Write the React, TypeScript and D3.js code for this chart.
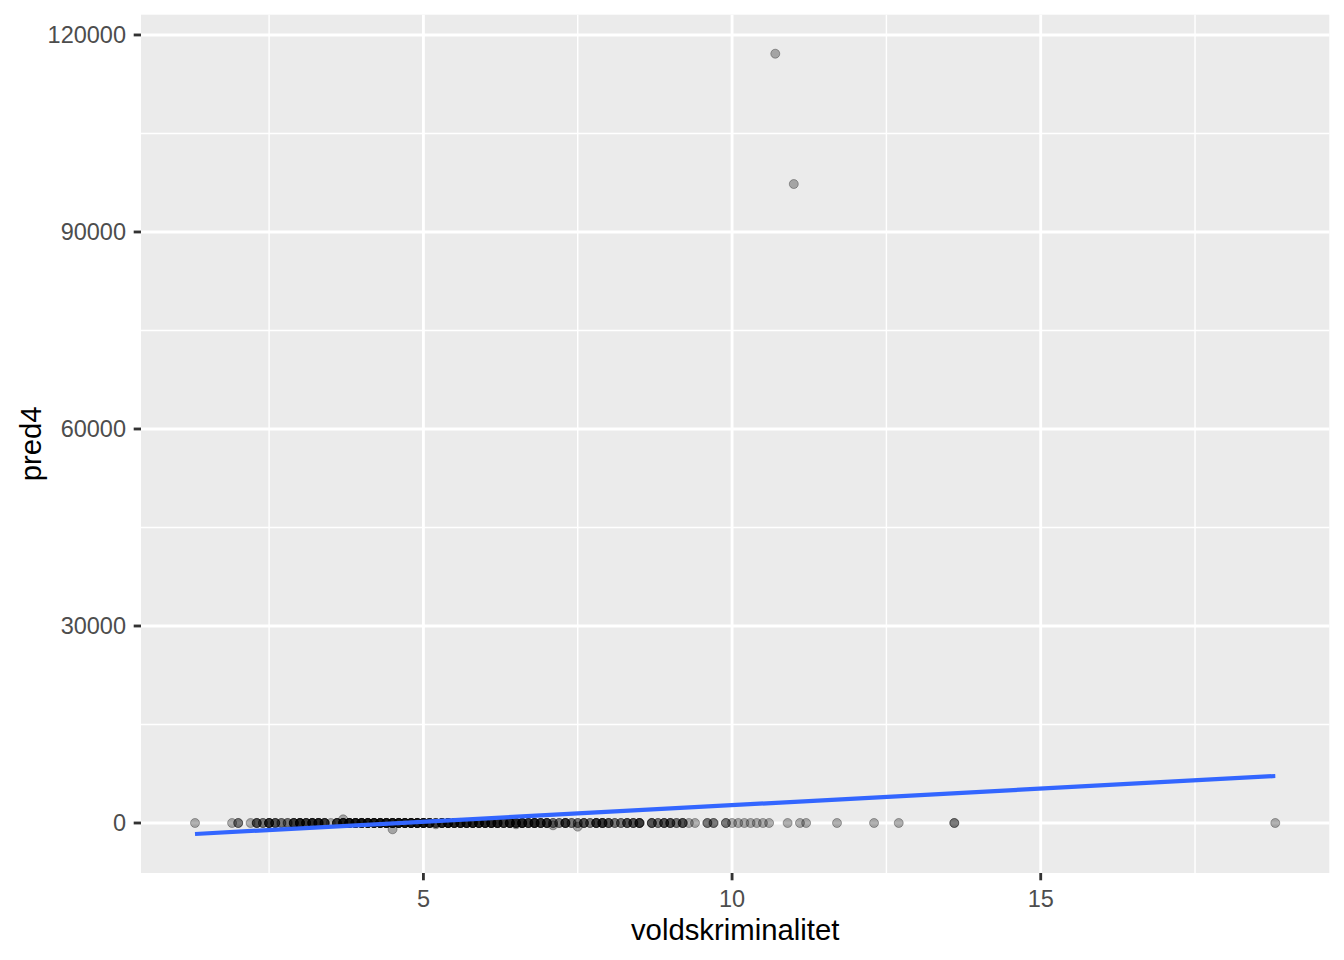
import React from "react";
import * as d3 from "d3";

// Points whose pred4 is (near) zero: x value and how many municipalities share it
const zeroX = [
  1.3, 1.9, 2.0, 2.2,
  2.3, 2.4, 2.5, 2.6, 2.7, 2.8, 2.9, 3.0, 3.1, 3.2, 3.3, 3.4, 3.5, 3.6, 3.7, 3.8, 3.9,
  4.0, 4.1, 4.2, 4.3, 4.4, 4.5, 4.6, 4.7, 4.8, 4.9, 5.0, 5.1, 5.2, 5.3, 5.4, 5.5, 5.6,
  5.7, 5.8, 5.9, 6.0, 6.1, 6.2, 6.3, 6.4, 6.5, 6.6, 6.7, 6.8, 6.9, 7.0, 7.1, 7.2, 7.3,
  7.4, 7.5, 7.6, 7.7, 7.8, 7.9, 8.0, 8.1, 8.2, 8.3, 8.4, 8.5, 8.7, 8.8, 8.9, 9.0, 9.1,
  9.2, 9.3, 9.4, 9.6, 9.7, 9.9, 10.0, 10.1, 10.2, 10.3, 10.4, 10.5, 10.6, 10.9, 11.1,
  11.2, 11.7, 12.3, 12.7, 13.6, 18.8,
];
const zeroCount = [
  1, 1, 2, 1,
  3, 2, 4, 3, 2, 2, 4, 5, 4, 5, 5, 4, 1, 4, 5, 6, 6,
  6, 6, 6, 6, 6, 6, 6, 6, 6, 6, 6, 5, 3, 5, 6, 5, 5,
  5, 5, 5, 5, 5, 5, 4, 5, 4, 5, 4, 5, 4, 4, 2, 2, 4,
  2, 2, 3, 2, 4, 4, 3, 2, 2, 3, 3, 4, 3, 2, 3, 3, 2,
  3, 1, 1, 2, 2, 2, 1, 1, 1, 1, 1, 1, 1, 1, 1,
  1, 1, 1, 1, 2, 1,
];

// Points off the zero line
const otherX = [10.7, 11.0, 4.5, 3.7, 7.5, 7.1, 5.2, 6.5];
const otherY = [117145, 97300, -960, 560, -560, -350, -200, -200];

// Linear fit (geom_smooth, method = "lm")
const fitX = [1.3, 18.8];
const fitY = [-1673, 7157];

const xTicks = [5, 10, 15];
const xMinor = [2.5, 7.5, 12.5, 17.5];
const yTicks = [0, 30000, 60000, 90000, 120000];
const yMinor = [15000, 45000, 75000, 105000];

const W = 1344;
const H = 960;
const panel = { left: 141, right: 1329.3, top: 14.7, bottom: 873 };
const FONT = "'Liberation Sans', Arial, Helvetica, sans-serif";

export default function App() {
  const points: { x: number; y: number }[] = [];
  zeroX.forEach((x, i) => {
    for (let k = 0; k < zeroCount[i]; k++) points.push({ x, y: 0 });
  });
  otherX.forEach((x, i) => points.push({ x, y: otherY[i] }));

  const allX = [...points.map((p) => p.x), ...fitX];
  const allY = [...points.map((p) => p.y), ...fitY];
  const [x0, x1] = d3.extent(allX) as [number, number];
  const [y0, y1] = d3.extent(allY) as [number, number];
  const ex = (x1 - x0) * 0.05;
  const ey = (y1 - y0) * 0.05;

  const xs = d3.scaleLinear().domain([x0 - ex, x1 + ex]).range([panel.left, panel.right]);
  const ys = d3.scaleLinear().domain([y0 - ey, y1 + ey]).range([panel.bottom, panel.top]);

  const line = d3
    .line<number>()
    .x((_, i) => xs(fitX[i]))
    .y((d) => ys(d));

  const major = 2.84;
  const minor = 1.42;

  return (
    <svg
      width={W}
      height={H}
      style={{ position: "absolute", left: 0, top: 0, background: "#fff" }}
      fontFamily={FONT}
    >
      <rect x={0} y={0} width={W} height={H} fill="#fff" />
      <rect
        x={panel.left}
        y={panel.top}
        width={panel.right - panel.left}
        height={panel.bottom - panel.top}
        fill="#EBEBEB"
      />
      {yMinor.map((v) => (
        <line key={"ym" + v} x1={panel.left} x2={panel.right} y1={ys(v)} y2={ys(v)} stroke="#fff" strokeWidth={minor} />
      ))}
      {xMinor.map((v) => (
        <line key={"xm" + v} y1={panel.top} y2={panel.bottom} x1={xs(v)} x2={xs(v)} stroke="#fff" strokeWidth={minor} />
      ))}
      {yTicks.map((v) => (
        <line key={"yM" + v} x1={panel.left} x2={panel.right} y1={ys(v)} y2={ys(v)} stroke="#fff" strokeWidth={major} />
      ))}
      {xTicks.map((v) => (
        <line key={"xM" + v} y1={panel.top} y2={panel.bottom} x1={xs(v)} x2={xs(v)} stroke="#fff" strokeWidth={major} />
      ))}

      <g>
        {points.map((p, i) => (
          <circle
            key={i}
            cx={xs(p.x)}
            cy={ys(p.y)}
            r={4.5}
            fill="#000"
            fillOpacity={0.3}
            stroke="#000"
            strokeOpacity={0.3}
            strokeWidth={1}
          />
        ))}
      </g>

      <path d={line(fitY) || ""} fill="none" stroke="#3366FF" strokeWidth={4.2} />

      {/* y axis */}
      {yTicks.map((v) => (
        <g key={"yt" + v}>
          <line x1={panel.left - 7.3} x2={panel.left} y1={ys(v)} y2={ys(v)} stroke="#333333" strokeWidth={major} />
          <text x={126} y={ys(v)} dy="0.36em" textAnchor="end" fontSize={23.5} fill="#4D4D4D">
            {v}
          </text>
        </g>
      ))}
      {/* x axis */}
      {xTicks.map((v) => (
        <g key={"xt" + v}>
          <line y1={panel.bottom} y2={panel.bottom + 7.3} x1={xs(v)} x2={xs(v)} stroke="#333333" strokeWidth={major} />
          <text x={xs(v)} y={906.5} textAnchor="middle" fontSize={23.5} fill="#4D4D4D">
            {v}
          </text>
        </g>
      ))}

      <text x={(panel.left + panel.right) / 2} y={939.5} textAnchor="middle" fontSize={29.3} fill="#000">
        voldskriminalitet
      </text>
      <text
        transform={`translate(40.5, ${(panel.top + panel.bottom) / 2}) rotate(-90)`}
        textAnchor="middle"
        fontSize={29.3}
        fill="#000"
      >
        pred4
      </text>
    </svg>
  );
}
